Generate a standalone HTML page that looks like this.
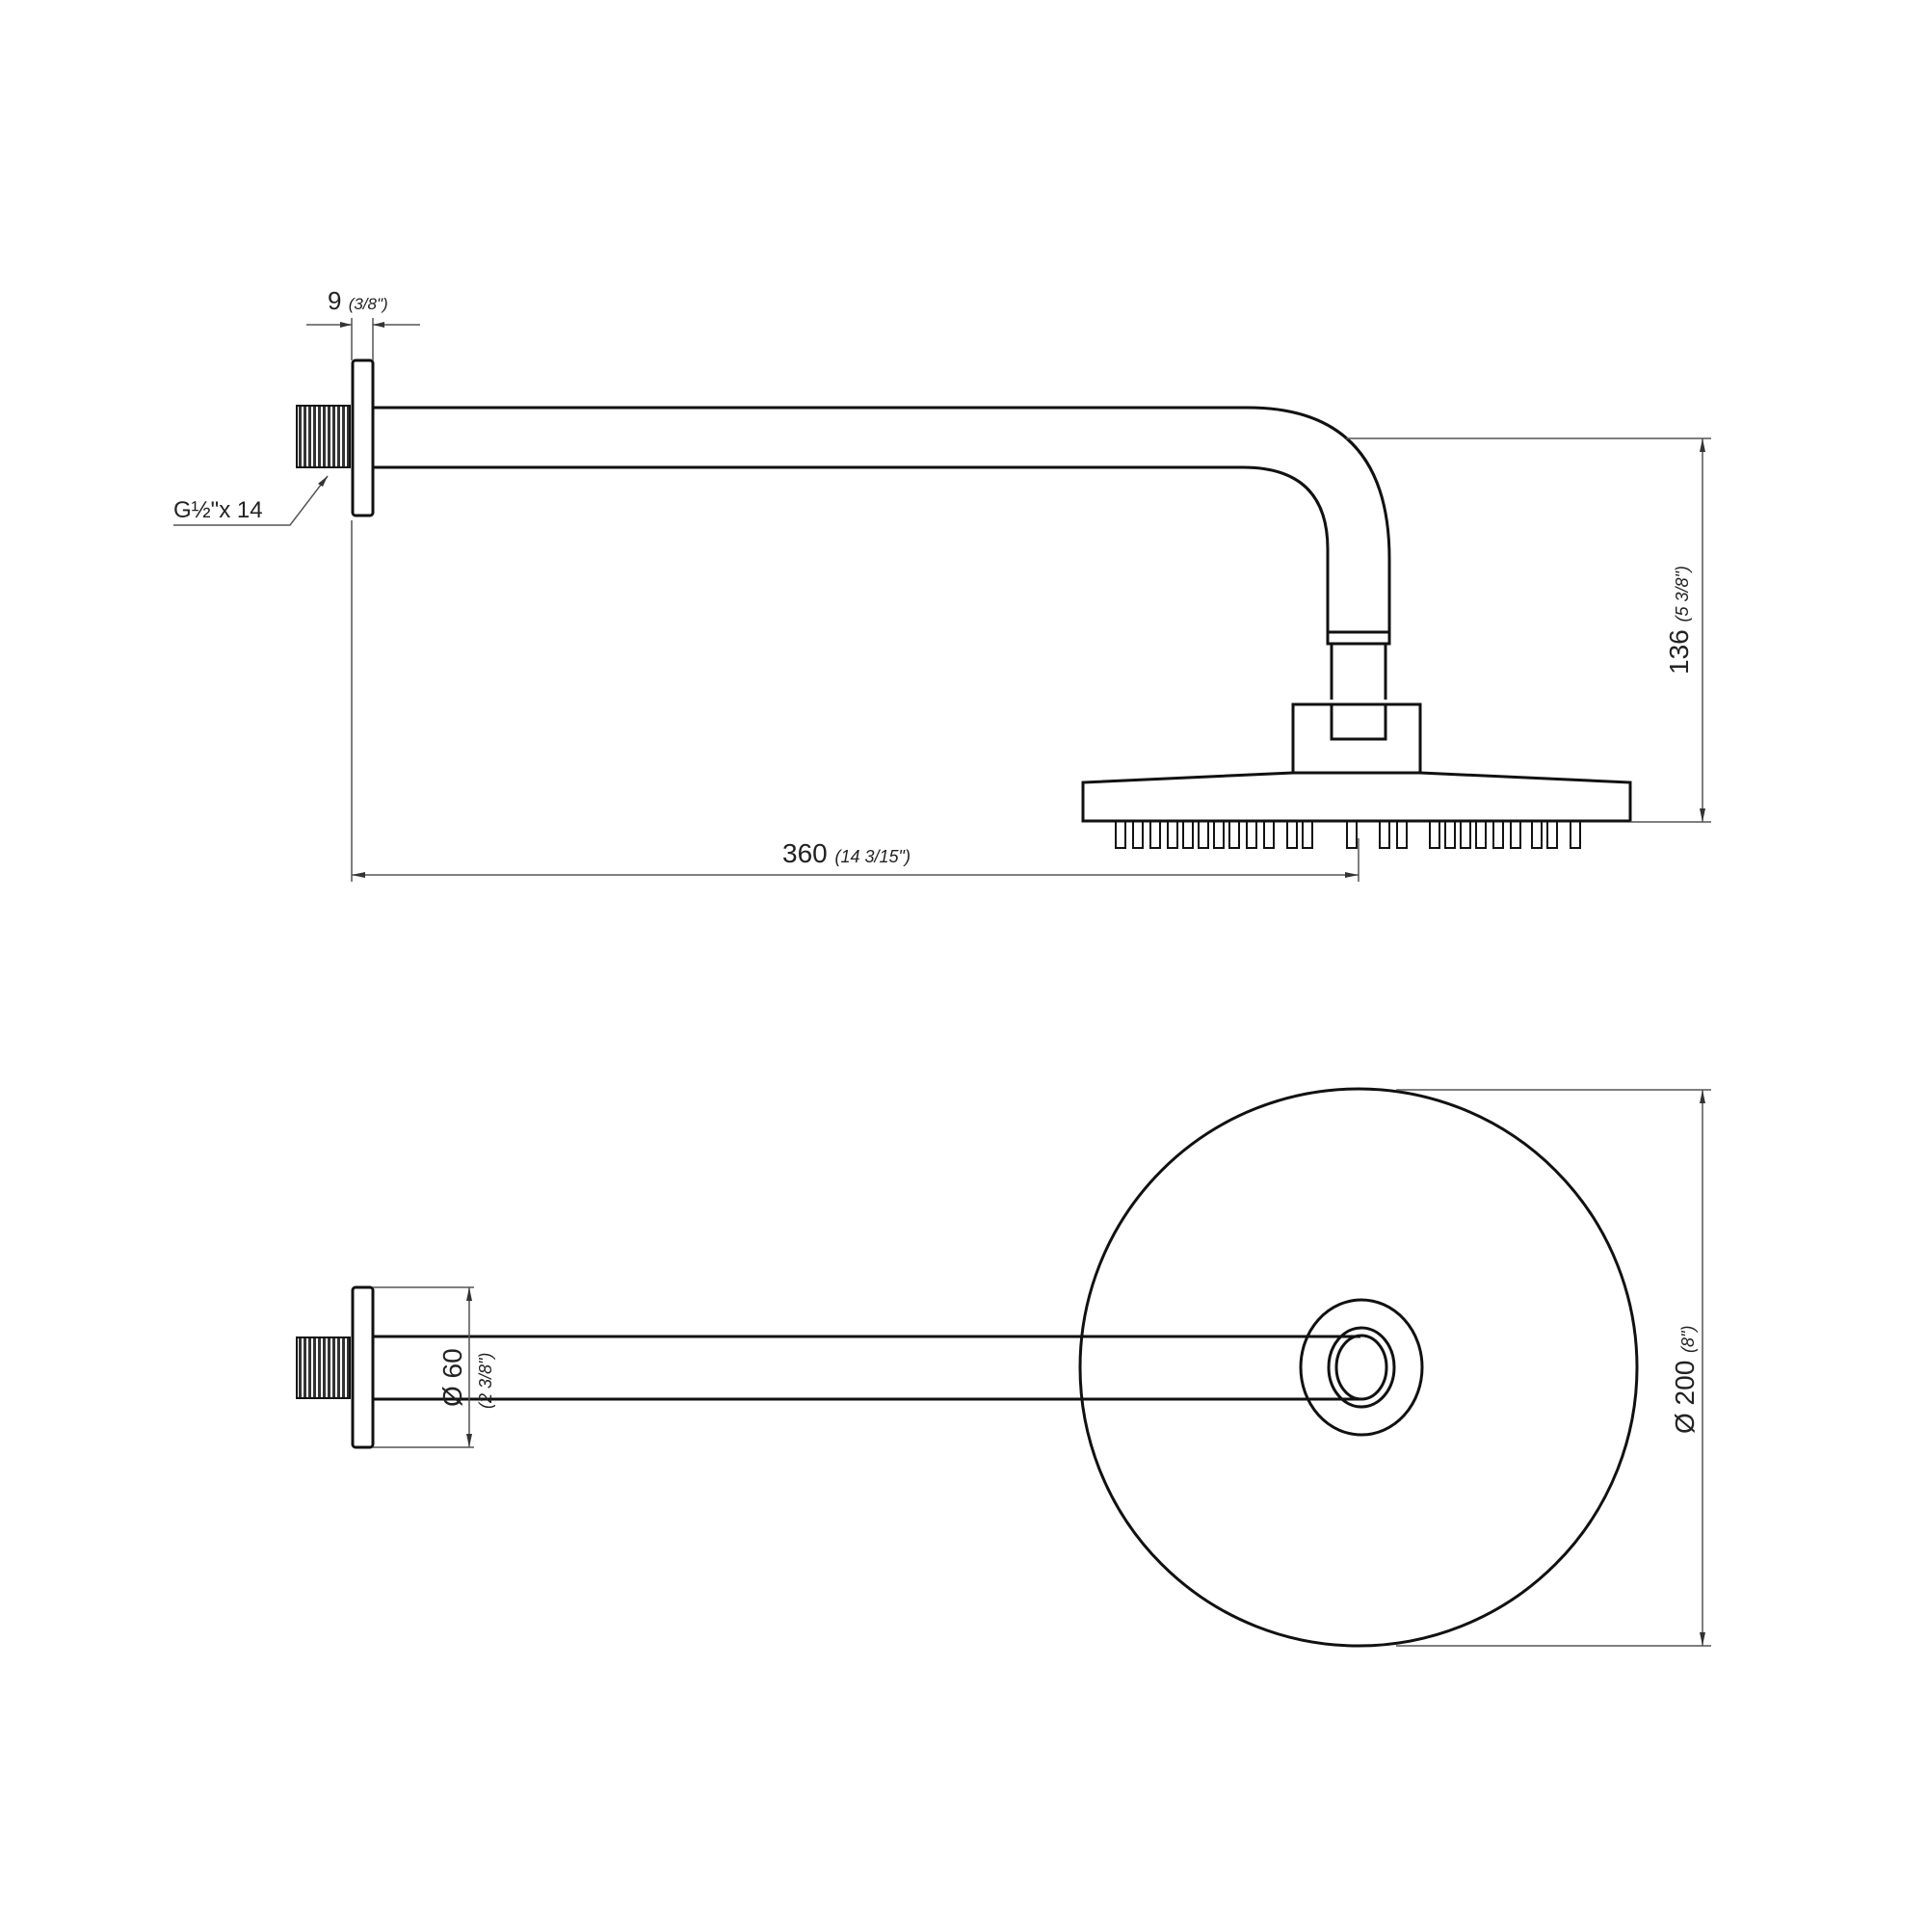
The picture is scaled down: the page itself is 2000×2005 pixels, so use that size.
<!DOCTYPE html>
<html><head><style>html,body{margin:0;padding:0;background:#fff}</style></head>
<body>
<svg width="2000" height="2000" viewBox="0 0 2000 2000" xmlns="http://www.w3.org/2000/svg" font-family="Liberation Sans, sans-serif">
<defs>
<pattern id="thr" width="5" height="10" patternUnits="userSpaceOnUse"><rect width="5" height="10" fill="#fff"/><rect width="3" height="10" fill="#333"/></pattern>
</defs>
<g fill="none" stroke="#111" stroke-width="3">
<!-- TOP VIEW -->
<rect x="308" y="421" width="55" height="64" fill="url(#thr)" stroke-width="2"/>
<rect x="366" y="374" width="21" height="161" rx="3" fill="#fff"/>
<path d="M387 423 H1295 Q1442 423 1442 580 V656"/>
<path d="M387 485 H1290 Q1378 485 1378 570 V656"/>
<rect x="1378" y="656" width="64" height="12"/>
<path d="M1382 668 V726 M1438 668 V726"/>
<rect x="1342" y="731" width="132" height="71"/>
<rect x="1382" y="731" width="56" height="36"/>
<path d="M1342 802 L1124 812 V852 H1692 V812 L1474 802"/>
<g stroke-width="2">
<path d="M1158 852 v28 h10 v-28 M1176 852 v28 h10 v-28 M1194 852 v28 h10 v-28 M1212 852 v28 h10 v-28 M1228 852 v28 h10 v-28 M1244 852 v28 h10 v-28 M1260 852 v28 h10 v-28 M1276 852 v28 h10 v-28 M1294 852 v28 h10 v-28 M1312 852 v28 h10 v-28 M1336 852 v28 h10 v-28 M1352 852 v28 h10 v-28 M1398 852 v28 h10 v-28 M1432 852 v28 h10 v-28 M1450 852 v28 h10 v-28 M1484 852 v28 h10 v-28 M1500 852 v28 h10 v-28 M1516 852 v28 h10 v-28 M1532 852 v28 h10 v-28 M1550 852 v28 h10 v-28 M1568 852 v28 h10 v-28 M1590 852 v28 h10 v-28 M1606 852 v28 h10 v-28 M1630 852 v28 h10 v-28"/>
</g>
<!-- BOTTOM VIEW -->
<rect x="308" y="1388" width="55" height="63" fill="url(#thr)" stroke-width="2"/>
<rect x="366" y="1336" width="21" height="166" rx="3" fill="#fff"/>
<circle cx="1410" cy="1419" r="289"/>
<ellipse cx="1413" cy="1419" rx="63" ry="70" fill="#fff"/>
<ellipse cx="1413" cy="1419" rx="34" ry="41"/>
<ellipse cx="1413" cy="1419" rx="26" ry="33"/>
<path d="M387 1387 H1412 M387 1452 H1412"/>
</g>
<!-- DIMENSIONS -->
<g stroke="#555" stroke-width="1.5" fill="none">
<path d="M318 337 H365 M387 337 H436 M365 330 V374 M387 330 V374"/>
<path d="M365 540 V915 M1410 870 V915 M365 908 H1410"/>
<path d="M1397 455 H1776 M1692 853 H1776 M1767 455 V853"/>
<path d="M180 545 H301 L340 494"/>
<path d="M387 1336 H492 M387 1502 H492 M487 1336 V1502"/>
<path d="M1449 1131 H1776 M1449 1708 H1776 M1767 1131 V1708"/>
</g>
<g fill="#333">
<path d="M365 337 l-12 -3 v6z M387 337 l12 -3 v6z"/>
<path d="M1410 908 l-14 -3 v6z M365 908 l14 -3 v6z"/>
<path d="M1767 455 l-3 14 h6z M1767 853 l-3 -14 h6z"/>
<path d="M487 1336 l-3 14 h6z M487 1502 l-3 -14 h6z"/>
<path d="M1767 1131 l-3 14 h6z M1767 1708 l-3 -14 h6z"/>
<path d="M340 494 l-10 8 l5 3z"/>
</g>
<g fill="#222">
<text x="340" y="321" font-size="26">9 <tspan font-size="17" font-style="italic">(3/8")</tspan></text>
<text x="180" y="537" font-size="24">G½"x 14</text>
<text x="812" y="895" font-size="28">360 <tspan font-size="18" font-style="italic">(14 3/15")</tspan></text>
<text transform="translate(1752,700) rotate(-90)" font-size="28">136 <tspan font-size="18" font-style="italic">(5 3/8")</tspan></text>
<text transform="translate(479,1460) rotate(-90)" font-size="28">Ø 60</text>
<text transform="translate(510,1462) rotate(-90)" font-size="18" font-style="italic">(2 3/8")</text>
<text transform="translate(1758,1488) rotate(-90)" font-size="28">Ø 200 <tspan font-size="18" font-style="italic">(8")</tspan></text>
</g>
</svg>
</body></html>
